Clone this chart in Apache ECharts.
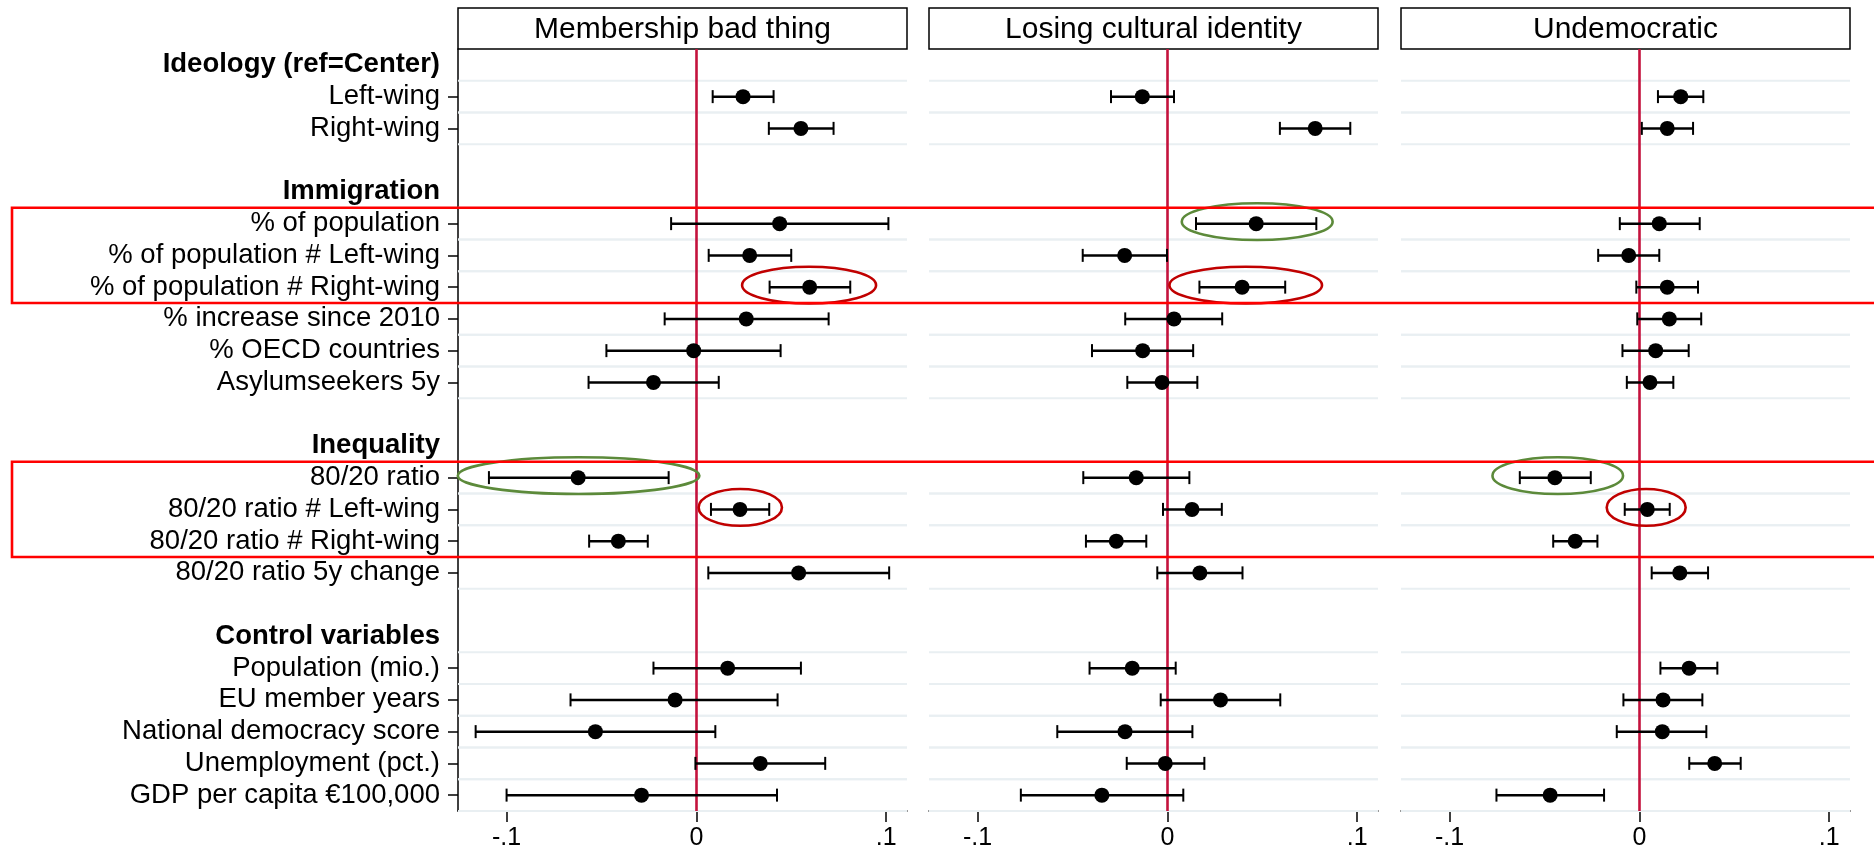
<!DOCTYPE html>
<html>
<head>
<meta charset="utf-8">
<script src="https://cdn.jsdelivr.net/npm/echarts@6/dist/echarts.min.js"></script>
<style>
  html, body { margin: 0; padding: 0; background: #ffffff; }
  #chart { width: 1874px; height: 854px; }
</style>
</head>
<body>
<div id="chart"></div>
<script>
// Rows of the coefficient plot, top to bottom ('' = spacer row)
const rowLabels = [
  'Ideology (ref=Center)', 'Left-wing', 'Right-wing', '',
  'Immigration', '% of population', '% of population # Left-wing', '% of population # Right-wing',
  '% increase since 2010', '% OECD countries', 'Asylumseekers 5y', '',
  'Inequality', '80/20 ratio', '80/20 ratio # Left-wing', '80/20 ratio # Right-wing', '80/20 ratio 5y change', '',
  'Control variables', 'Population (mio.)', 'EU member years', 'National democracy score',
  'Unemployment (pct.)', 'GDP per capita €100,000'
];
const headerLabels = ['Ideology (ref=Center)', 'Immigration', 'Inequality', 'Control variables'];
const coefLabels = rowLabels.filter(l => l !== '' && !headerLabels.includes(l));

const panelTitles = ['Membership bad thing', 'Losing cultural identity', 'Undemocratic'];

const xTickValues = [-0.1, 0, 0.1];
const xTickLabels = ['-.1', '0', '.1'];

// Estimates and 95% bounds, in coefLabels order
const membershipEst = [0.0246, 0.0551, 0.0439, 0.0281, 0.0597, 0.0263, -0.0014, -0.0226, -0.0623, 0.0230, -0.0411, 0.0539, 0.0165, -0.0112, -0.0532, 0.0337, -0.0289];
const membershipLo  = [0.0086, 0.0382, -0.0133, 0.0065, 0.0386, -0.0167, -0.0474, -0.0568, -0.1093, 0.0077, -0.0565, 0.0063, -0.0226, -0.0663, -0.1163, -0.0005, -0.1000];
const membershipHi  = [0.0407, 0.0723, 0.1012, 0.0500, 0.0811, 0.0697, 0.0444, 0.0118, -0.0146, 0.0384, -0.0256, 0.1016, 0.0551, 0.0428, 0.0100, 0.0679, 0.0425];

const identityEst = [-0.0132, 0.0779, 0.0468, -0.0225, 0.0394, 0.0035, -0.0130, -0.0028, -0.0164, 0.0130, -0.0269, 0.0171, -0.0185, 0.0280, -0.0223, -0.0011, -0.0345];
const identityLo  = [-0.0297, 0.0593, 0.0151, -0.0446, 0.0169, -0.0222, -0.0397, -0.0211, -0.0443, -0.0023, -0.0429, -0.0053, -0.0410, -0.0035, -0.0580, -0.0214, -0.0772];
const identityHi  = [0.0035, 0.0964, 0.0785, -0.0002, 0.0621, 0.0289, 0.0136, 0.0158, 0.0116, 0.0287, -0.0111, 0.0396, 0.0044, 0.0595, 0.0132, 0.0195, 0.0084];

const undemocraticEst = [0.0218, 0.0147, 0.0105, -0.0056, 0.0147, 0.0158, 0.0086, 0.0056, -0.0445, 0.0042, -0.0338, 0.0213, 0.0262, 0.0125, 0.0121, 0.0397, -0.0470];
const undemocraticLo  = [0.0098, 0.0013, -0.0103, -0.0217, -0.0016, -0.0011, -0.0089, -0.0066, -0.0630, -0.0077, -0.0454, 0.0065, 0.0111, -0.0084, -0.0119, 0.0263, -0.0753];
const undemocraticHi  = [0.0337, 0.0283, 0.0318, 0.0105, 0.0309, 0.0326, 0.0260, 0.0179, -0.0256, 0.0160, -0.0221, 0.0362, 0.0411, 0.0332, 0.0353, 0.0534, -0.0186];

// Circled effects: panel, row, axis range enclosed, highlight kind
const circledPanel = [0, 1, 1, 0, 0, 2, 2];
const circledRow   = ['% of population # Right-wing', '% of population', '% of population # Right-wing',
                      '80/20 ratio', '80/20 ratio # Left-wing', '80/20 ratio', '80/20 ratio # Left-wing'];
const circledFrom  = [0.0241, 0.0076, 0.0011, -0.1257, 0.0012, -0.0774, -0.0172];
const circledTo    = [0.0947, 0.0871, 0.0815, 0.0016, 0.0451, -0.0086, 0.0244];
const circledKind  = ['interaction', 'main', 'interaction', 'main', 'interaction', 'main', 'interaction'];

// Row blocks boxed across all panels (first row, last row)
const boxedFirst = ['% of population', '80/20 ratio'];
const boxedLast  = ['% of population # Right-wing', '80/20 ratio # Right-wing'];

// ---- drawing ----
const FONT = '"Liberation Sans", Arial, Helvetica, sans-serif';
const layout = { top: 49, height: 762, width: 449, lefts: [458, 929, 1401], titleTop: 8, xMin: -0.1256, xMax: 0.111, boxLeft: 12 };
const kindColor = { main: '#5c8a3a', interaction: '#c00000' };

const panelData = [
  { est: membershipEst, lo: membershipLo, hi: membershipHi },
  { est: identityEst, lo: identityLo, hi: identityHi },
  { est: undemocraticEst, lo: undemocraticLo, hi: undemocraticHi }
];
const rowIndex = l => rowLabels.indexOf(l);

const chart = echarts.init(document.getElementById('chart'), null, { renderer: 'canvas' });

const grids = [], xAxes = [], yAxes = [], series = [];
panelData.forEach((p, k) => {
  grids.push({ left: layout.lefts[k], top: layout.top, width: layout.width, height: layout.height, containLabel: false });
  xAxes.push({
    type: 'value', gridIndex: k, min: layout.xMin, max: layout.xMax,
    axisLine: { show: true, onZero: false, lineStyle: { color: '#000', width: 1.5 } },
    axisTick: { show: true, customValues: xTickValues, length: 11, lineStyle: { color: '#000', width: 1.5 } },
    axisLabel: {
      show: true, customValues: xTickValues, margin: 15, fontSize: 25, fontFamily: FONT, color: '#000',
      formatter: v => xTickLabels[xTickValues.findIndex(t => Math.abs(t - v) < 1e-9)]
    },
    splitLine: { show: false }
  });
  yAxes.push({
    type: 'category', gridIndex: k, inverse: true, data: rowLabels, boundaryGap: true, position: 'left',
    axisLine: { show: k === 0, onZero: false, lineStyle: { color: '#000', width: 1.5 } },
    axisTick: {
      show: k === 0, alignWithLabel: true, length: 10, lineStyle: { color: '#000', width: 1.5 },
      interval: (i, v) => coefLabels.includes(v)
    },
    axisLabel: {
      show: k === 0, interval: 0, margin: 18, fontSize: 27.5, fontFamily: FONT, color: '#000',
      formatter: v => headerLabels.includes(v) ? '{h|' + v + '}' : v,
      rich: { h: { fontSize: 27.5, fontWeight: 'bold', fontFamily: FONT, color: '#000' } }
    },
    splitLine: { show: false }
  });

  // light rules above and below each coefficient row, plus the zero reference line
  series.push({
    type: 'custom', xAxisIndex: k, yAxisIndex: k, z: 1, silent: true,
    encode: { x: 0, y: 1 },
    data: coefLabels.map(l => [0, rowIndex(l)]),
    renderItem: (params, api) => {
      const y = api.coord([0, api.value(1)])[1];
      const band = api.size([0, 1])[1];
      const cs = params.coordSys;
      const style = { stroke: '#e9eff2', lineWidth: 2 };
      return { type: 'group', children: [
        { type: 'line', shape: { x1: cs.x, y1: y - band / 2, x2: cs.x + cs.width, y2: y - band / 2 }, style },
        { type: 'line', shape: { x1: cs.x, y1: y + band / 2, x2: cs.x + cs.width, y2: y + band / 2 }, style }
      ] };
    },
    markLine: {
      silent: true, z: 2, symbol: ['none', 'none'], label: { show: false },
      lineStyle: { color: '#c4123d', width: 2.6, type: 'solid' },
      data: [{ xAxis: 0 }]
    }
  });

  // confidence intervals with caps
  series.push({
    type: 'custom', xAxisIndex: k, yAxisIndex: k, z: 6, silent: true,
    encode: { x: [0, 1], y: 2 },
    data: coefLabels.map((l, i) => [p.lo[i], p.hi[i], rowIndex(l)]),
    renderItem: (params, api) => {
      const a = api.coord([api.value(0), api.value(2)]);
      const b = api.coord([api.value(1), api.value(2)]);
      const cap = 6.5;
      return { type: 'group', children: [
        { type: 'line', shape: { x1: a[0], y1: a[1], x2: b[0], y2: b[1] }, style: { stroke: '#000', lineWidth: 2.5 } },
        { type: 'line', shape: { x1: a[0], y1: a[1] - cap, x2: a[0], y2: a[1] + cap }, style: { stroke: '#000', lineWidth: 2 } },
        { type: 'line', shape: { x1: b[0], y1: b[1] - cap, x2: b[0], y2: b[1] + cap }, style: { stroke: '#000', lineWidth: 2 } }
      ] };
    }
  });

  // point estimates
  series.push({
    type: 'scatter', xAxisIndex: k, yAxisIndex: k, z: 10, silent: true,
    symbol: 'circle', symbolSize: 15,
    itemStyle: { color: '#000', opacity: 1 },
    data: coefLabels.map((l, i) => [p.est[i], rowIndex(l)])
  });

  // highlighted effects
  const marks = circledPanel.map((pi, j) => pi === k ? j : -1).filter(j => j >= 0);
  series.push({
    type: 'custom', xAxisIndex: k, yAxisIndex: k, z: 12, silent: true, clip: false,
    encode: { x: [0, 1], y: 2 },
    data: marks.map(j => [circledFrom[j], circledTo[j], rowIndex(circledRow[j]), j]),
    renderItem: (params, api) => {
      const a = api.coord([api.value(0), api.value(2)]);
      const b = api.coord([api.value(1), api.value(2)]);
      const band = api.size([0, 1])[1];
      const j = api.value(3);
      return {
        type: 'ellipse',
        shape: { cx: (a[0] + b[0]) / 2, cy: a[1] - 2, rx: Math.abs(b[0] - a[0]) / 2, ry: band * 0.58 },
        style: { fill: 'none', stroke: kindColor[circledKind[j]], lineWidth: 2.6 }
      };
    }
  });
});

// panel headings
const titleGraphics = panelTitles.map((t, k) => ({
  type: 'group', z: 20,
  children: [
    { type: 'rect', shape: { x: layout.lefts[k], y: layout.titleTop, width: layout.width, height: layout.top - layout.titleTop },
      style: { fill: '#fff', stroke: '#000', lineWidth: 1.5 } },
    { type: 'text', x: layout.lefts[k] + layout.width / 2, y: (layout.titleTop + layout.top) / 2 + 1,
      style: { text: t, fontSize: 30, fontFamily: FONT, fill: '#000', align: 'center', verticalAlign: 'middle' } }
  ]
}));

chart.setOption({
  animation: false,
  backgroundColor: '#ffffff',
  textStyle: { fontFamily: FONT },
  grid: grids, xAxis: xAxes, yAxis: yAxes, series: series,
  graphic: titleGraphics
});

// boxes spanning the whole figure around selected row blocks
const band = layout.height / rowLabels.length;
const boxGraphics = boxedFirst.map((f, i) => {
  const yTop = chart.convertToPixel({ gridIndex: 0 }, [0, rowIndex(f)])[1] - band / 2;
  const yBot = chart.convertToPixel({ gridIndex: 0 }, [0, rowIndex(boxedLast[i])])[1] + band / 2;
  return { type: 'rect', z: 30, silent: true,
    shape: { x: layout.boxLeft, y: yTop, width: 1900, height: yBot - yTop },
    style: { fill: 'none', stroke: '#ff0000', lineWidth: 2.6 } };
});
chart.setOption({ graphic: titleGraphics.concat(boxGraphics) });
</script>
</body>
</html>
